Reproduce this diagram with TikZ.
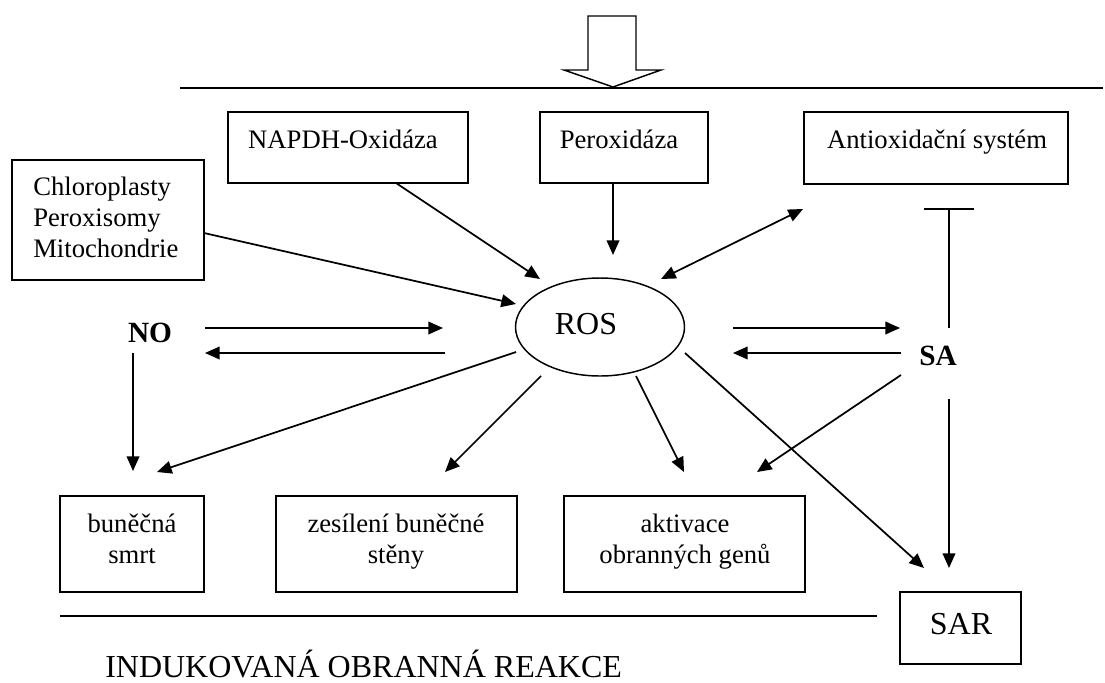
\documentclass[tikz,border=0pt]{standalone}
\usepackage{fontspec}
\setmainfont{Liberation Serif}
\usetikzlibrary{arrows.meta, shapes.geometric, fit}

\tikzset{
  box/.style={draw, line width=1.1pt, inner sep=0pt},
  arr/.style={line width=1.3pt, -{Triangle[length=11pt,width=9.5pt]}},
  dblarr/.style={line width=1.3pt, {Triangle[length=11pt,width=9.5pt]}-{Triangle[length=11pt,width=9.5pt]}},
  blockarr/.style={line width=1.3pt, -{Bar[width=37pt]}},
  lbl/.style={inner sep=0pt, font=\fontsize{20}{23}\selectfont},
  biglbl/.style={inner sep=0pt, font=\fontsize{24}{28}\selectfont},
  boldlbl/.style={inner sep=0pt, font=\fontsize{22}{26}\selectfont\bfseries},
}

\begin{document}
\begin{tikzpicture}[x=0.75pt,y=0.75pt,yscale=-1,xscale=1]
\useasboundingbox (0,0) rectangle (1105,682);

%Shape: hollow arrow on top
\draw [line width=1.1pt] (588,16) -- (636,16) -- (636,70) -- (661,70) -- (613,87) -- (564,70) -- (588,70) -- cycle ;
%Straight Lines: top and bottom rule
\draw [line width=1.3pt] (180,88) -- (1103,88) ;
\draw [line width=1.3pt] (60,616) -- (877,616) ;

%Boxes
\node [box, fit={(228,112) (468,183)}] (nadph) {};
\node [box, fit={(540,112) (708,183)}] (perox) {};
\node [box, fit={(804,112) (1068,184)}] (antiox) {};
\node [box, fit={(12,160) (204,280)}] (organ) {};
\node [box, fit={(60,496) (204,592)}] (smrt) {};
\node [box, fit={(276,496) (517,592)}] (stena) {};
\node [box, fit={(564,496) (805,592)}] (geny) {};
\node [box, fit={(900,592) (1021,664)}] (sar) {};
%Shape: Ellipse
\node [draw, ellipse, line width=1.1pt, minimum width=126.75pt, minimum height=73.5pt] (ros) at (600,327) {};

% Text Node
\node [lbl, anchor=base] (nadphT) at (343,148) {NAPDH-Oxidáza};
% Text Node
\node [lbl, anchor=base] (peroxT) at (619,148) {Peroxidáza};
% Text Node
\node [lbl, anchor=base] (antioxT) at (937,148) {Antioxidační systém};
% Text Node
\node [lbl, anchor=north west, align=left] (organT) at (33,177) {Chloroplasty\\Peroxisomy\\Mitochondrie};
% Text Node
\node [biglbl, anchor=base] (rosT) at (586,334) {ROS};
% Text Node
\node [boldlbl, anchor=base] (no) at (150,342) {NO};
% Text Node
\node [boldlbl, anchor=base] (sa) at (938,365) {SA};
% Text Node
\node [lbl, anchor=north, align=center] (smrtT) at (132,514) {buněčná\\smrt};
% Text Node
\node [lbl, anchor=north, align=center] (stenaT) at (396,514) {zesílení buněčné\\stěny};
% Text Node
\node [lbl, anchor=north, align=center] (genyT) at (685,514) {aktivace\\obranných genů};
% Text Node
\node [biglbl, anchor=base] (sarT) at (961,634) {SAR};
% Text Node
\node [biglbl, anchor=base west] (title) at (105,677) {INDUKOVANÁ OBRANNÁ REAKCE};

%Connector ends
\coordinate (nadphOut) at (396,183);  \coordinate (rosIn1) at (540,279);
\coordinate (peroxOut) at (613,183);  \coordinate (rosIn2) at (613,255);
\coordinate (organOut) at (204,233);  \coordinate (rosIn3) at (516,304);
\coordinate (rosUp) at (661,279);     \coordinate (antioxIn) at (803,209);
\coordinate (saUp) at (949,328);      \coordinate (antioxBar) at (949,208);
\coordinate (noRight) at (205,328);   \coordinate (rosLeft1) at (443,328);
\coordinate (rosLeft2) at (445,353);  \coordinate (noIn) at (205,353);
\coordinate (rosRight1) at (733,328); \coordinate (saIn) at (900,328);
\coordinate (saLeft) at (901,353);    \coordinate (rosRight2) at (733,353);
\coordinate (noDown) at (133,353);    \coordinate (smrtIn1) at (133,471);
\coordinate (rosOut1) at (516,352);   \coordinate (smrtIn2) at (157,472);
\coordinate (rosOut2) at (541,376);   \coordinate (stenaIn) at (445,472);
\coordinate (rosOut3) at (636,376);   \coordinate (genyIn1) at (684,472);
\coordinate (rosOut4) at (685,353);   \coordinate (sarIn1) at (924,568);
\coordinate (saOut1) at (901,375);    \coordinate (genyIn2) at (757,472);
\coordinate (saOut2) at (949,399);    \coordinate (sarIn2) at (949,568);

%Straight Lines with arrows
\draw [arr] (nadphOut) -- (rosIn1) ;
\draw [arr] (peroxOut) -- (rosIn2) ;
\draw [arr] (organOut) -- (rosIn3) ;
\draw [dblarr] (rosUp) -- (antioxIn) ;
\draw [blockarr] (saUp) -- (antioxBar) ;
\draw [arr] (noRight) -- (rosLeft1) ;
\draw [arr] (rosLeft2) -- (noIn) ;
\draw [arr] (rosRight1) -- (saIn) ;
\draw [arr] (saLeft) -- (rosRight2) ;
\draw [arr] (noDown) -- (smrtIn1) ;
\draw [arr] (rosOut1) -- (smrtIn2) ;
\draw [arr] (rosOut2) -- (stenaIn) ;
\draw [arr] (rosOut3) -- (genyIn1) ;
\draw [arr] (rosOut4) -- (sarIn1) ;
\draw [arr] (saOut1) -- (genyIn2) ;
\draw [arr] (saOut2) -- (sarIn2) ;

\end{tikzpicture}
\end{document}
